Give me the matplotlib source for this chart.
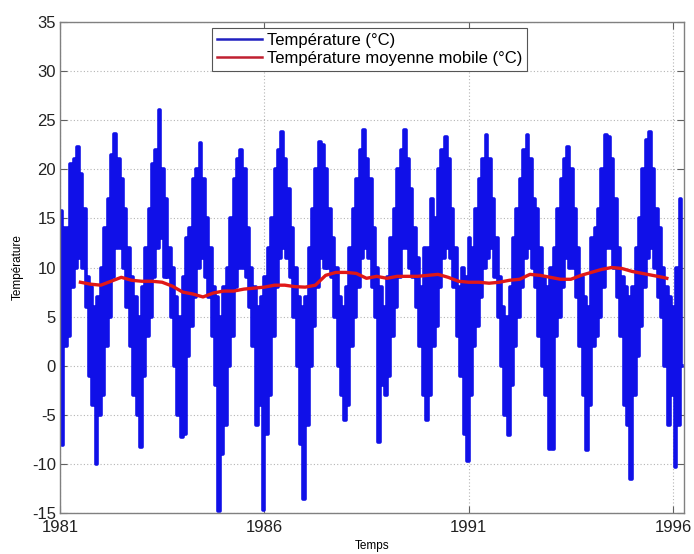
import numpy as np
import matplotlib
matplotlib.use("Agg")
import matplotlib.pyplot as plt

plt.rcParams['font.family'] = ['Liberation Sans', 'DejaVu Sans']

# Monthly upper / lower envelope of the daily temperature (°C)
hi_1981 = [15.8, 14, 14, 20.5, 21, 22.3, 19.5, 16, 9, 8, 6, 7]
lo_1981 = [-8.1, 2, 3, 8, 10, 11, 10, 6, -1, -4, -10, -5]
hi_1982 = [10, 14, 17, 21.5, 23.6, 21, 19, 16, 12, 9, 7, 5]
lo_1982 = [-3, 2, 5, 9, 12, 12, 10, 6, 2, -3, -5, -8.3]
hi_1983 = [8, 12, 16, 20.5, 22, 26, 20, 17, 12, 10, 7, 5]
lo_1983 = [-1, 3, 5, 9, 12, 13, 9, 9, 5, 0, -5, -7.3]
hi_1984 = [9, 13, 14, 19, 20, 22.7, 19, 15, 12, 8, 7, 5]
lo_1984 = [-7, 1, 4, 7, 10, 11, 9, 7, 3, -2, -14.8, -9]
hi_1985 = [8, 10, 15, 19, 21, 22, 20, 14, 10, 8, 6, 7]
lo_1985 = [-6, 0, 3, 8, 10, 10, 9, 6, 2, -6, -4, -14.7]
hi_1986 = [9, 12, 15, 20, 22, 23.8, 21, 18, 14, 10, 7, 6]
lo_1986 = [-7, -3, 3, 8, 11, 12, 11, 9, 5, 0, -8, -13.6]
hi_1987 = [7, 12, 16, 20, 22.8, 22.5, 20, 16, 13, 10, 7, 6]
lo_1987 = [-6, 0, 4, 8, 11, 10, 10, 9, 5, 0, -3, -5.5]
hi_1988 = [8, 12, 16, 19, 22, 24, 21, 19, 14, 10, 8, 6]
lo_1988 = [-4, 2, 5, 8, 11, 12, 11, 8, 5, -7.8, -2, -3]
hi_1989 = [9, 13, 16, 20, 22, 24, 21, 18, 14, 11, 8, 12]
lo_1989 = [-1, 3, 6, 9, 12, 12, 10, 9, 6, 2, -3, -5.5]
hi_1990 = [12, 17, 15, 20, 22, 23.3, 21, 16, 12, 8, 10, 9]
lo_1990 = [-3, 2, 4, 8, 11, 12, 11, 8, 3, -1, -7, -9.7]
hi_1991 = [13, 12, 16, 19, 21, 23.5, 21, 17, 13, 9, 6, 5]
lo_1991 = [-3, 2, 4, 7, 10, 11, 12, 9, 5, 0, -5, -7.1]
hi_1992 = [8, 13, 16, 19, 22, 23.5, 21, 17, 16, 12, 9, 8]
lo_1992 = [-2, 2, 5, 8, 11, 12, 10, 8, 3, 0, -3, -8.5]
hi_1993 = [10, 12, 16, 19, 21, 22.3, 20, 16, 12, 9, 7, 6]
lo_1993 = [-8.5, 3, 5, 8, 11, 10, 10, 7, 2, -3, -8.6, -4]
hi_1994 = [13, 14, 16, 20, 23.5, 23.3, 21, 17, 12, 9, 8, 7]
lo_1994 = [2, 3, 5, 8, 12, 12, 10, 7, 3, -4, -6, -11.5]
hi_1995 = [8, 12, 15, 20, 23, 23.8, 20, 16, 14, 10, 8, 7]
lo_1995 = [-3, 1, 4, 8, 11, 12, 10, 7, 5, 0, -6, -3]
hi_1996 = [6, 10, 17]
lo_1996 = [-10.3, -6, 0]

# Moving average (°C), quarterly readings
ma_time = [1981.50, 1981.75, 1982.00, 1982.25, 1982.50, 1982.75, 1983.00, 1983.25,
           1983.50, 1983.75, 1984.00, 1984.25, 1984.50, 1984.75, 1985.00, 1985.25,
           1985.50, 1985.75, 1986.00, 1986.25, 1986.50, 1986.75, 1987.00, 1987.25,
           1987.50, 1987.75, 1988.00, 1988.25, 1988.50, 1988.75, 1989.00, 1989.25,
           1989.50, 1989.75, 1990.00, 1990.25, 1990.50, 1990.75, 1991.00, 1991.25,
           1991.50, 1991.75, 1992.00, 1992.25, 1992.50, 1992.75, 1993.00, 1993.25,
           1993.50, 1993.75, 1994.00, 1994.25, 1994.50, 1994.75, 1995.00, 1995.25,
           1995.50, 1995.75, 1995.85]
ma_values = [8.5, 8.3, 8.2, 8.6, 9.0, 8.7, 8.6, 8.6,
             8.5, 8.1, 7.5, 7.3, 7.0, 7.4, 7.6, 7.6,
             7.8, 7.9, 8.0, 8.2, 8.2, 8.05, 8.0, 8.2,
             9.2, 9.5, 9.5, 9.4, 8.9, 9.1, 8.9, 9.1,
             9.1, 9.1, 9.2, 9.3, 9.0, 8.6, 8.5, 8.5,
             8.4, 8.5, 8.7, 8.8, 9.3, 9.2, 9.0, 8.8,
             8.8, 9.2, 9.5, 9.8, 10.0, 9.9, 9.6, 9.4,
             9.2, 9.0, 8.9]

x_ticks = [1981, 1986, 1991, 1996]
y_ticks = [-15, -10, -5, 0, 5, 10, 15, 20, 25, 30, 35]

hi_all = (hi_1981 + hi_1982 + hi_1983 + hi_1984 + hi_1985 + hi_1986 + hi_1987 + hi_1988
          + hi_1989 + hi_1990 + hi_1991 + hi_1992 + hi_1993 + hi_1994 + hi_1995 + hi_1996)
lo_all = (lo_1981 + lo_1982 + lo_1983 + lo_1984 + lo_1985 + lo_1986 + lo_1987 + lo_1988
          + lo_1989 + lo_1990 + lo_1991 + lo_1992 + lo_1993 + lo_1994 + lo_1995 + lo_1996)

n = len(hi_all)
month = np.arange(n)
t = np.empty(2 * n)
v = np.empty(2 * n)
t[0::2] = 1981 + (month + 0.25) / 12
t[1::2] = 1981 + (month + 0.75) / 12
v[0::2] = hi_all
v[1::2] = lo_all

fig = plt.figure(figsize=(6.94, 5.54), dpi=100)
ax = fig.add_axes([60 / 694, 1 - 513 / 554, 624 / 694, 491 / 554])

ax.plot(t, v, color='#1010e8', lw=2.6, drawstyle='steps-mid',
        label='Température (°C)')
ax.plot(ma_time, ma_values, color='#e01818', lw=2.4,
        label='Température moyenne mobile (°C)')

ax.set_xlim(1981, 1996.27)
ax.set_ylim(-15, 35)
ax.set_xticks(x_ticks)
ax.set_xticklabels([str(x) for x in x_ticks])
ax.set_yticks(y_ticks)
ax.set_yticklabels([str(y) for y in y_ticks])

ax.grid(True, color='#b4b4b4', linestyle=(0, (1, 2)), lw=0.8)
ax.tick_params(direction='in', length=5, width=0.8, colors='#606060',
               labelcolor='#222222', labelsize=12, top=True, right=True)
ax.tick_params(axis='x', pad=5)
ax.tick_params(axis='y', pad=3)
for s in ax.spines.values():
    s.set_color('#808080')
    s.set_linewidth(1.0)

ax.set_xlabel('Temps', fontsize=8.5, labelpad=4)
ax.set_ylabel('Température', fontsize=8.5, labelpad=6)

leg = ax.legend(loc='upper left', bbox_to_anchor=(212 / 694, 1 - 28 / 554),
                bbox_transform=fig.transFigure, borderaxespad=0, fancybox=False,
                framealpha=1, edgecolor='#555555', fontsize=12, handlelength=2.7,
                handletextpad=0.3, borderpad=0.3, labelspacing=0.2)
leg.get_frame().set_linewidth(0.8)
leg.get_lines()[0].set_color('#2020c0')
leg.get_lines()[1].set_color('#c02030')
for ln in leg.get_lines():
    ln.set_linewidth(1.8)

fig.savefig('out.png', dpi=100)
